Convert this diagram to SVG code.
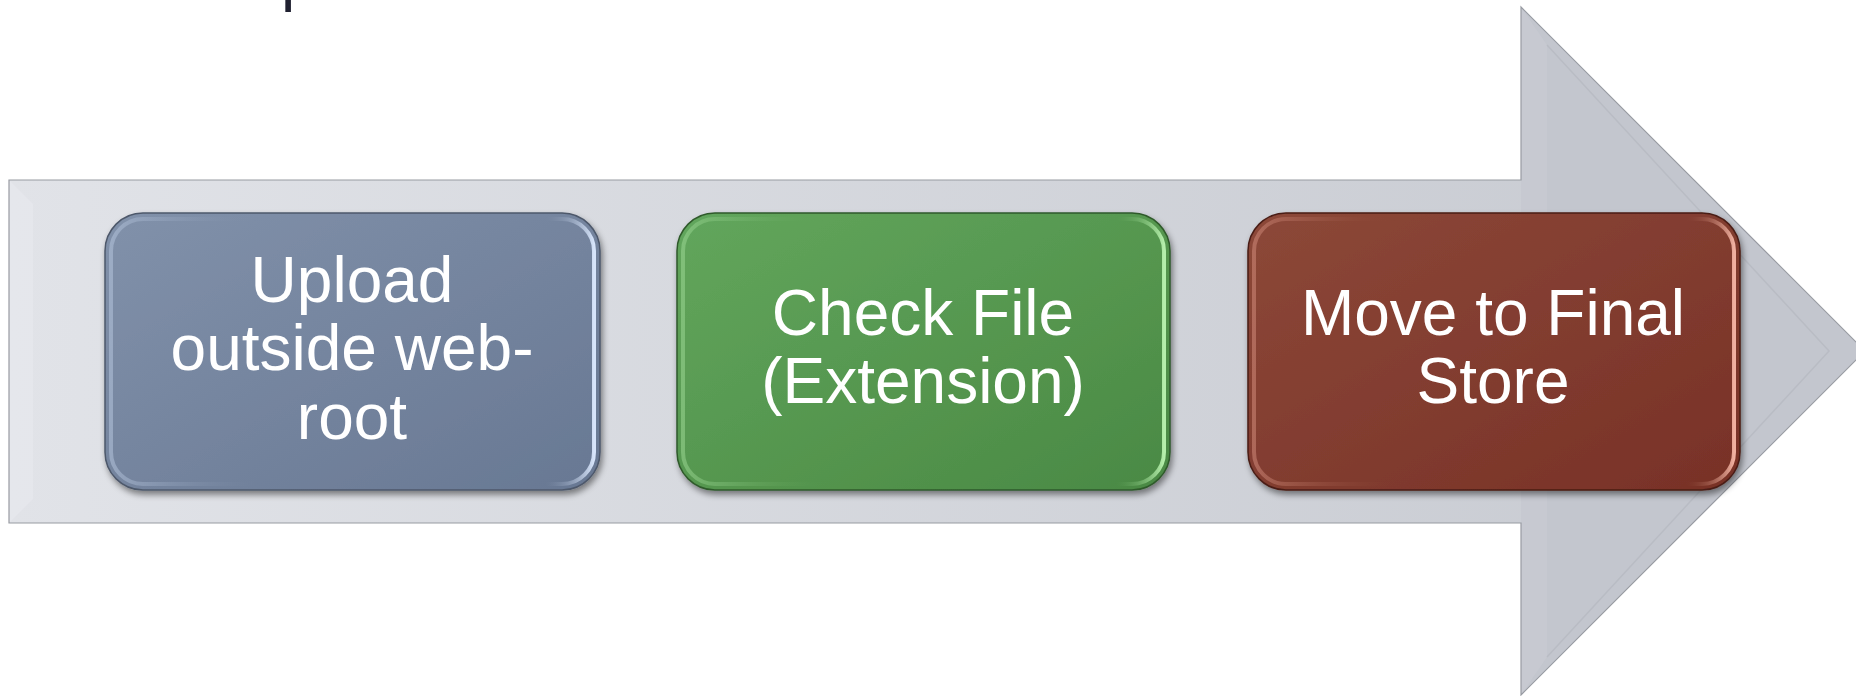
<svg xmlns="http://www.w3.org/2000/svg" width="1856" height="696" viewBox="0 0 1856 696">
  <defs>
    <linearGradient id="gBody" x1="0" y1="0" x2="1" y2="0">
      <stop offset="0" stop-color="#e1e3e8"/>
      <stop offset="1" stop-color="#c6c9d0"/>
    </linearGradient>
    <linearGradient id="gBlue" x1="0" y1="0" x2="1" y2="1">
      <stop offset="0" stop-color="#8191aa"/>
      <stop offset="1" stop-color="#687893"/>
    </linearGradient>
    <linearGradient id="gGreen" x1="0" y1="0" x2="1" y2="1">
      <stop offset="0" stop-color="#62a65c"/>
      <stop offset="1" stop-color="#4a8944"/>
    </linearGradient>
    <linearGradient id="gRed" x1="0" y1="0" x2="1" y2="1">
      <stop offset="0" stop-color="#8c4838"/>
      <stop offset="1" stop-color="#783127"/>
    </linearGradient>
    <linearGradient id="rimBlue" x1="0" y1="0" x2="1" y2="0">
      <stop offset="0" stop-color="#b4c4dc" stop-opacity="0.55"/>
      <stop offset="0.3" stop-color="#7d8ca5" stop-opacity="0"/>
      <stop offset="0.9" stop-color="#7d8ca5" stop-opacity="0"/>
      <stop offset="1" stop-color="#d6e4fa"/>
    </linearGradient>
    <linearGradient id="rimGreen" x1="0" y1="0" x2="1" y2="0">
      <stop offset="0" stop-color="#9ad692" stop-opacity="0.55"/>
      <stop offset="0.3" stop-color="#5a9c54" stop-opacity="0"/>
      <stop offset="0.9" stop-color="#5a9c54" stop-opacity="0"/>
      <stop offset="1" stop-color="#b5eeab"/>
    </linearGradient>
    <linearGradient id="rimRed" x1="0" y1="0" x2="1" y2="0">
      <stop offset="0" stop-color="#d08a7a" stop-opacity="0.55"/>
      <stop offset="0.3" stop-color="#844030" stop-opacity="0"/>
      <stop offset="0.9" stop-color="#844030" stop-opacity="0"/>
      <stop offset="1" stop-color="#f0b0a0"/>
    </linearGradient>
    <filter id="shadow" x="-10%" y="-10%" width="120%" height="130%">
      <feDropShadow dx="2" dy="4" stdDeviation="3" flood-color="#000" flood-opacity="0.45"/>
    </filter>
    <style>
      .lbl { font-family: "Liberation Sans", Arial, sans-serif; font-size: 64px; fill: #ffffff; text-anchor: middle; }
      .box { filter: url(#shadow); }
      .rim { fill: none; stroke-width: 4; }
    </style>
  </defs>

  <text x="281" y="-1" style="font-family: 'Liberation Sans', Arial, sans-serif; font-size: 64px; fill: #1f2030;">p</text>

  <g id="connectors">
    <path d="M9,180 H1521 V7 L1865,351 L1521,695 V523 H9 Z" fill="url(#gBody)"/>
    <path d="M1521,180 V7 L1865,351 L1521,695 V523 Z" fill="#c3c6ce"/>
    <path d="M9,180 L33,204 V499 L9,523 Z" fill="#e8eaee" opacity="0.6"/>
    <path d="M1521,7 L1547,45 V657 L1521,695 Z" fill="#c9ccd3" opacity="0.6"/>
    <path d="M1547,45 L1829,351 L1547,657" stroke="#b9bcc4" stroke-width="1.5" fill="none"/>
    <path d="M9,180 H1521 V7 L1865,351 L1521,695 V523 H9 Z" fill="none" stroke="#989ba2" stroke-width="1.2"/>
  </g>

  <g id="node-upload">
    <rect class="box" x="105" y="213" width="495" height="277" rx="38" fill="url(#gBlue)" stroke="#4d586b" stroke-width="1.5"/>
    <rect class="rim" x="111" y="219" width="483" height="265" rx="32" stroke="url(#rimBlue)"/>
    <text class="lbl" x="352" y="302">Upload</text>
    <text class="lbl" x="352" y="370">outside web-</text>
    <text class="lbl" x="352" y="439">root</text>
  </g>

  <g id="node-check">
    <rect class="box" x="677" y="213" width="493" height="277" rx="38" fill="url(#gGreen)" stroke="#2f5a2b" stroke-width="1.5"/>
    <rect class="rim" x="683" y="219" width="481" height="265" rx="32" stroke="url(#rimGreen)"/>
    <text class="lbl" x="923" y="335">Check File</text>
    <text class="lbl" x="923" y="403">(Extension)</text>
  </g>

  <g id="node-move">
    <rect class="box" x="1248" y="213" width="492" height="277" rx="38" fill="url(#gRed)" stroke="#4a1d15" stroke-width="1.5"/>
    <rect class="rim" x="1254" y="219" width="480" height="265" rx="32" stroke="url(#rimRed)"/>
    <text class="lbl" x="1493" y="335">Move to Final</text>
    <text class="lbl" x="1493" y="403">Store</text>
  </g>
</svg>
